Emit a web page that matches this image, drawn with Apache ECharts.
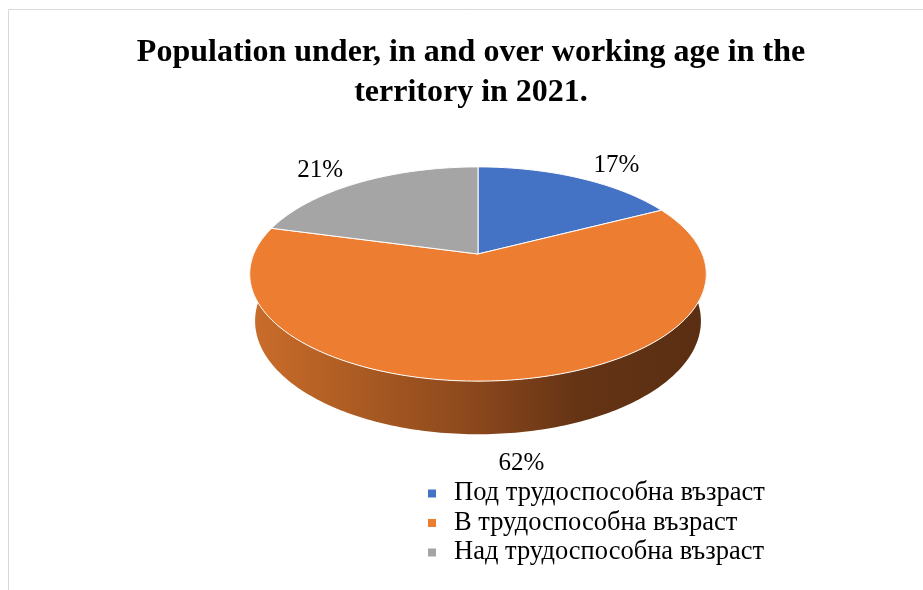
<!DOCTYPE html>
<html><head><meta charset="utf-8">
<script src="https://cdn.jsdelivr.net/npm/echarts@6/dist/echarts.min.js"></script>
<style>html,body{margin:0;padding:0;background:#fff}#c{width:923px;height:590px}</style>
</head><body><div id="c"></div>
<script>
const categories = ['Под трудоспособна възраст', 'В трудоспособна възраст', 'Над трудоспособна възраст'];
const values = [17.4, 61.8, 20.8];
const colors = ['#4472C4', '#ED7D31', '#A5A5A5'];
const titleText = 'Population under, in and over working age in the\nterritory in 2021.';

// perspective projection of a tilted cylinder (pie)
const CX = 478, CY = 254, K = 1064, DIST = 4.745, SA = 0.461, CA = 0.887, DEPTH = -0.238;
function proj(theta, r, h) {
  const X = r * Math.sin(theta), Y = -r * Math.cos(theta);
  const yc = -Y * SA + h * CA;
  const zc = DIST - Y * CA - h * SA;
  return [CX + K * X / zc, CY - K * yc / zc];
}
const DEG = Math.PI / 180;
const sideGradient = {
  type: 'linear', x: 250, y: 0, x2: 706, y2: 0, global: true,
  colorStops: [
    { offset: 0, color: '#CB6D2B' },
    { offset: 0.25, color: '#A95A22' },
    { offset: 0.5, color: '#8A471C' },
    { offset: 0.72, color: '#653415' },
    { offset: 1, color: '#5A2E12' }
  ]
};

function makeRender(i) {
  return function (params, api) {
    const total = values.reduce((a, b) => a + b, 0);
    let before = 0;
    for (let j = 0; j < i; j++) before += values[j];
    const v = api.value(0);
    const a0 = before / total * 2 * Math.PI, a1 = (before + v) / total * 2 * Math.PI;
    const children = [];
    // side wall (front part)
    const s0 = Math.max(a0, 80 * DEG), s1 = Math.min(a1, 280 * DEG);
    if (s1 > s0) {
      const pts = [];
      const n = Math.max(2, Math.ceil((s1 - s0) / DEG));
      for (let k = 0; k <= n; k++) pts.push(proj(s0 + (s1 - s0) * k / n, 1, 0));
      for (let k = n; k >= 0; k--) pts.push(proj(s0 + (s1 - s0) * k / n, 1, DEPTH));
      children.push({ type: 'polygon', shape: { points: pts }, style: { fill: sideGradient }, z2: 0 });
    }
    // top face
    const top = [proj(0, 0, 0)];
    const n = Math.max(2, Math.ceil((a1 - a0) / DEG));
    for (let k = 0; k <= n; k++) top.push(proj(a0 + (a1 - a0) * k / n, 1, 0));
    children.push({ type: 'polygon', shape: { points: top }, style: { fill: colors[i], stroke: '#ffffff', lineWidth: 1, lineJoin: 'round' }, z2: 10 });
    // label
    const mid = (a0 + a1) / 2;
    let p, align;
    if (Math.cos(mid) < -0.7) { p = proj(mid, 1.16, DEPTH); align = 'center'; p[0] += 9; p[1] += 3; }
    else {
      p = proj(mid, 1.2, 0);
      const s = Math.sin(mid);
      align = s > 0.3 ? 'left' : (s < -0.3 ? 'right' : 'center');
      p[0] += s > 0.3 ? -2 : 4;
    }
    children.push({
      type: 'text', x: p[0], y: p[1], z2: 20,
      style: { text: Math.round(v / total * 100) + '%', fill: '#000', fontSize: 25, fontFamily: '"Liberation Serif", serif', align: align, verticalAlign: 'middle' }
    });
    return { type: 'group', children: children };
  };
}

const chart = echarts.init(document.getElementById('c'), null, { renderer: 'canvas' });
chart.setOption({
  backgroundColor: '#ffffff',
  animation: false,
  title: {
    text: titleText, left: 471, textAlign: 'center', top: 33, padding: 0,
    textStyle: { fontFamily: '"Liberation Serif", serif', fontWeight: 'bold', fontSize: 32, lineHeight: 40, color: '#000' }
  },
  legend: {
    orient: 'vertical', left: 423, top: 475, icon: 'rect', itemWidth: 8, itemHeight: 8, itemGap: 2.5,
    data: categories,
    textStyle: { fontFamily: '"Liberation Serif", serif', fontSize: 26.5, lineHeight: 24, color: '#000', padding: [0, 0, 0, 13] }
  },
  graphic: [{
    type: 'rect', shape: { x: 8.5, y: 9.5, width: 930, height: 600 },
    style: { fill: 'none', stroke: '#d9d9d9', lineWidth: 1 }, silent: true, z: -10
  }],
  series: categories.map((name, i) => ({
    type: 'custom', name: name, coordinateSystem: 'none',
    itemStyle: { color: colors[i] },
    data: [[values[i]]],
    renderItem: makeRender(i)
  }))
});
</script></body></html>
